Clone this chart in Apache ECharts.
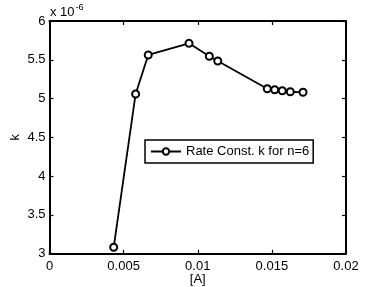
<!DOCTYPE html>
<html>
<head>
<meta charset="utf-8">
<script src="https://cdn.jsdelivr.net/npm/echarts@6/dist/echarts.min.js"></script>
<style>
html,body{margin:0;padding:0;background:#fff;}
#c{width:382px;height:287px;}
</style>
</head>
<body>
<div id="c"></div>
<script>
// Data (k in units of 1e-6)
const concA = [0.00433, 0.00581, 0.00666, 0.00941, 0.01078, 0.01135, 0.01469, 0.01519, 0.01570, 0.01624, 0.01710];
const kValues = [3.083, 5.059, 5.562, 5.712, 5.546, 5.484, 5.127, 5.114, 5.101, 5.088, 5.081];
const seriesName = 'Rate Const. k for n=6';
const xTicks = [0, 0.005, 0.01, 0.015, 0.02];
const yTicks = [3, 3.5, 4, 4.5, 5, 5.5, 6];
const xLabel = '[A]';
const yLabel = 'k';

const FONT = 'Liberation Sans, Arial, Helvetica, sans-serif';
const chart = echarts.init(document.getElementById('c'), null, {renderer: 'canvas'});

const tickInside = {show: true, inside: true, length: 4, lineStyle: {color: '#000', width: 1.2}};
const axLine = {show: true, onZero: false, lineStyle: {color: '#000', width: 2}};

chart.setOption({
  animation: false,
  backgroundColor: '#fff',
  grid: {left: 49.5, right: 36, top: 21, bottom: 33.3, containLabel: false, outerBoundsMode: 'none'},
  xAxis: [{
    type: 'value', min: 0, max: 0.02, interval: 0.005,
    axisLine: axLine, axisTick: tickInside, splitLine: {show: false},
    axisLabel: {color: '#000', fontSize: 13, fontFamily: FONT, margin: 6,
      formatter: v => { const t = xTicks.find(x => Math.abs(x - v) < 1e-9); return t === undefined ? '' : String(t); }},
    name: xLabel, nameLocation: 'middle', nameGap: 19, nameMoveOverlap: false,
    nameTextStyle: {color: '#000', fontSize: 13, fontFamily: FONT}
  }, {
    type: 'value', position: 'top', min: 0, max: 0.02, interval: 0.005,
    axisLine: axLine, axisTick: tickInside, axisLabel: {show: false}, splitLine: {show: false}
  }],
  yAxis: [{
    type: 'value', min: 3, max: 6, interval: 0.5,
    axisLine: axLine, axisTick: tickInside, splitLine: {show: false},
    axisLabel: {color: '#000', fontSize: 13, fontFamily: FONT, margin: 4,
      formatter: v => { const t = yTicks.find(y => Math.abs(y - v) < 1e-9); return t === undefined ? '' : String(t); }},
    name: yLabel, nameLocation: 'middle', nameGap: 28, nameRotate: 90, nameMoveOverlap: false,
    nameTextStyle: {color: '#000', fontSize: 13, fontFamily: FONT}
  }, {
    type: 'value', position: 'right', min: 3, max: 6, interval: 0.5,
    axisLine: axLine, axisTick: tickInside, axisLabel: {show: false}, splitLine: {show: false}
  }],
  legend: {
    show: true, left: 145, top: 140,
    padding: [5, 4, 5, 5],
    borderColor: '#000', borderWidth: 1.5, backgroundColor: '#fff',
    itemWidth: 30, itemHeight: 8, itemGap: 5,
    textStyle: {color: '#000', fontSize: 13, fontFamily: FONT},
    data: [seriesName]
  },
  graphic: [{
    type: 'text', left: 50, top: 3,
    style: {
      text: '{b|x 10}{s|-6}',
      rich: {
        b: {fontSize: 13, fontFamily: FONT, fill: '#000', verticalAlign: 'bottom', lineHeight: 16},
        s: {fontSize: 9, fontFamily: FONT, fill: '#000', verticalAlign: 'top', lineHeight: 10, padding: [0, 0, 8, 1]}
      }
    }
  }],
  series: [{
    name: seriesName, type: 'line',
    data: concA.map((x, i) => [x, kValues[i]]),
    symbol: 'emptyCircle', symbolSize: 7, showAllSymbol: true,
    lineStyle: {color: '#000', width: 1.8},
    itemStyle: {color: '#000', borderColor: '#000', borderWidth: 1.6},
    z: 5
  }]
});
</script>
</body>
</html>
